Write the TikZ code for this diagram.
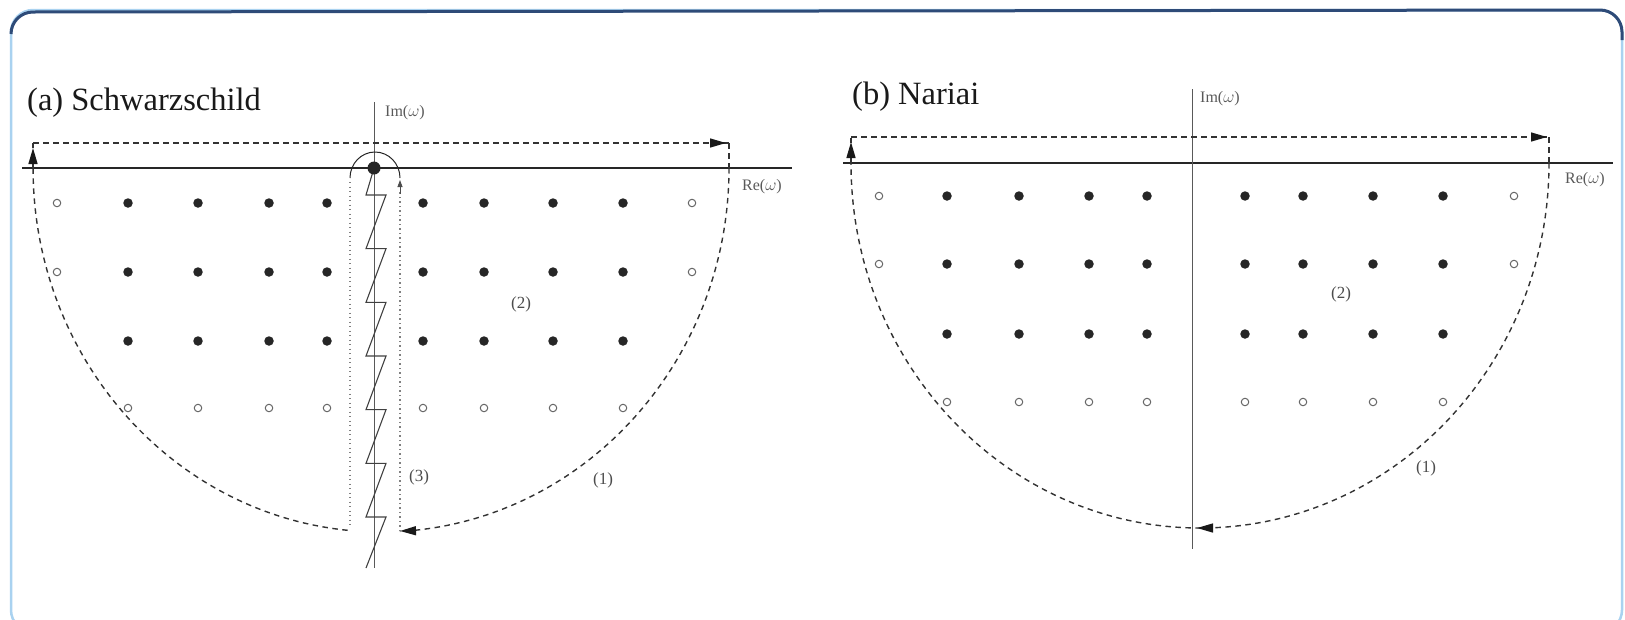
\documentclass[tikz,border=0pt]{standalone}
\usepackage{fontspec}
\setmainfont{Liberation Serif}
\usetikzlibrary{arrows.meta}
\definecolor{framenavy}{HTML}{2E4B78}
\definecolor{framesky}{HTML}{A9D2F0}
\begin{document}
\begin{tikzpicture}[x=1pt,y=-1pt,
  axis/.style={line width=2pt, black!85},
  imaxis/.style={line width=0.8pt, black!65},
  contour/.style={dash pattern=on 5.5pt off 4.5pt, line width=1.4pt, black!80},
  keyhole/.style={dash pattern=on 1.3pt off 3.2pt, line width=1.4pt, black!50},
  cutline/.style={line width=1.1pt, black!75},
  headtip/.style={solid, line width=1.4pt, black!90, -{Triangle[length=16pt,width=9pt]}},
  smalltip/.style={solid, -{Triangle[length=7pt,width=5pt]}},
  pole/.style={circle, fill=black!85, inner sep=0pt, minimum size=9.5pt},
  zero/.style={circle, draw=black!60, line width=1pt, inner sep=0pt, minimum size=7.5pt},
  small/.style={font=\fontsize{16}{16}\selectfont, text=black!65, inner sep=0pt},
  tag/.style={font=\fontsize{17}{17}\selectfont, text=black!70, inner sep=0pt},
  caption/.style={font=\fontsize{32.5}{32.5}\selectfont, text=black!90, anchor=base west, inner sep=0pt}]

\path[use as bounding box] (0,0) rectangle (1625,619);
\clip (0,0) rectangle (1625,619);

% rounded frame: pale sides, dark top edge
\draw[framesky, line width=2.5pt, rounded corners=22pt] (11,10) rectangle (1622,632);
\draw[framenavy, line width=3pt] (11,34) arc[start angle=180, end angle=270, radius=22]
  -- (1600,10) arc[start angle=270, end angle=360, radius=22] -- (1622,40);

% ---------------- (a) Schwarzschild ----------------
\node[caption] (capA) at (27,110) {(a) Schwarzschild};

\draw[axis] (22,168) -- (792,168);
\draw[imaxis] (374,102) -- (374,568);
\node[small, anchor=west] (imA) at (385,113) {Im($\omega$)};
\node[small, anchor=west] (reA) at (742,187) {Re($\omega$)};

% branch cut along the negative imaginary axis
\draw[cutline] (374,168) -- (366,195)
  \foreach \k in {0,...,5} { -- (386,{195+53.67*\k}) -- (366,{195+53.67*(\k+1)}) }
  -- (386,517) -- (366,568);

% quasinormal frequencies
\foreach \r/\y in {1/203,2/272} {
  \node[zero] (a-\r-0) at (57,\y) {};
  \node[zero] (a-\r-9) at (692,\y) {};
}
\foreach \r/\y in {1/203,2/272,3/341} {
  \foreach \c/\x in {1/128,2/198,3/269,4/327,5/423,6/484,7/553,8/623}
    \node[pole] (a-\r-\c) at (\x,\y) {};
}
\foreach \c/\x in {1/128,2/198,3/269,4/327,5/423,6/484,7/553,8/623}
  \node[zero] (a-4-\c) at (\x,408) {};

% origin pole
\node[pole, minimum size=13pt] (oA) at (374,168) {};

% contour (1): large half-ellipse closed above the real axis
\coordinate (aTL) at (33,143);
\coordinate (aTR) at (729,143);
\coordinate (aBot) at (400,531);
\draw[contour] (aTR) -- (729,168);
\draw[contour] (729,168) arc[start angle=0, end angle=86.9, x radius=348, y radius=364];
\draw[headtip] (412,530.8) -- (aBot);
\draw[contour] (347.7,530.3) arc[start angle=95.5, end angle=180, x radius=348, y radius=364];
\draw[contour] (33,168) -- (aTL);
\draw[headtip] (33,162) -- (33,148);
\draw[contour] (aTL) -- (aTR);
\draw[headtip] (712,143) -- (726,143);

% contour (3): keyhole around the branch cut
\draw[keyhole] (aBot) -- (400,192);
\draw[smalltip, black!70, line width=0.8pt] (400,194) -- (400,180);
\draw[black!85, line width=1pt] (400,178) arc[start angle=0, end angle=-180, x radius=25, y radius=26];
\draw[keyhole] (350,182) -- (350,525);

\node[tag] (l2a) at (521,304) {(2)};
\node[tag] (l3a) at (419,477) {(3)};
\node[tag] (l1a) at (603,480) {(1)};

% ---------------- (b) Nariai ----------------
\node[caption] (capB) at (852,104) {(b) Nariai};

\draw[axis] (843,163) -- (1613,163);
\draw[imaxis] (1192,89) -- (1192,549);
\node[small, anchor=west] (imB) at (1200,99) {Im($\omega$)};
\node[small, anchor=west] (reB) at (1565,180) {Re($\omega$)};

\foreach \r/\y in {1/196,2/264} {
  \node[zero] (b-\r-0) at (879,\y) {};
  \node[zero] (b-\r-9) at (1514,\y) {};
}
\foreach \r/\y in {1/196,2/264,3/334} {
  \foreach \c/\x in {1/947,2/1019,3/1089,4/1147,5/1245,6/1303,7/1373,8/1443}
    \node[pole] (b-\r-\c) at (\x,\y) {};
}
\foreach \c/\x in {1/947,2/1019,3/1089,4/1147,5/1245,6/1303,7/1373,8/1443}
  \node[zero] (b-4-\c) at (\x,402) {};

% contour (1)
\coordinate (bTL) at (851,137);
\coordinate (bTR) at (1549,137);
\draw[contour] (bTR) -- (1549,163);
\draw[contour] (1549,163) arc[start angle=0, end angle=180, x radius=349, y radius=365];
\draw[headtip] (1212,528) -- (1197,528);
\draw[contour] (851,163) -- (bTL);
\draw[headtip] (851,156) -- (851,142);
\draw[contour] (bTL) -- (bTR);
\draw[headtip] (1533,137) -- (1547,137);

\node[tag] (l2b) at (1341,294) {(2)};
\node[tag] (l1b) at (1426,468) {(1)};
\end{tikzpicture}
\end{document}
